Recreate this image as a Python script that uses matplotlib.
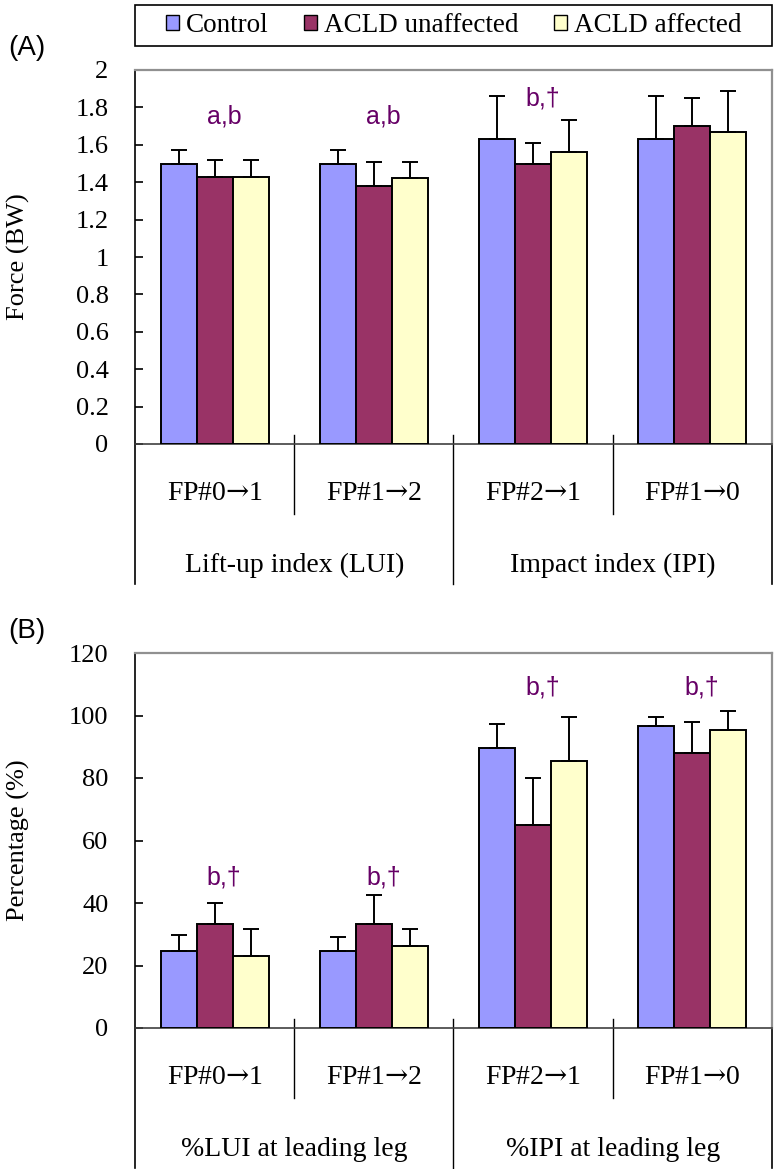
import matplotlib
matplotlib.use("Agg")
import matplotlib.pyplot as plt
from matplotlib.patches import Patch
from matplotlib import transforms
import numpy as np

plt.rcParams['font.family'] = ['Liberation Serif', 'DejaVu Serif']
plt.rcParams['mathtext.fontset'] = 'dejavuserif'

# ---- data ----
series = ["Control", "ACLD unaffected", "ACLD affected"]
colors = ["#9999FF", "#993366", "#FFFFCC"]
categories = ["FP#0\u21921", "FP#1\u21922", "FP#2\u21921", "FP#1\u21920"]

# panel A: force (BW)
force_mean = [[1.50, 1.50, 1.63, 1.63],
              [1.43, 1.38, 1.50, 1.70],
              [1.43, 1.42, 1.56, 1.67]]
force_err = [[0.07, 0.07, 0.23, 0.23],
             [0.09, 0.13, 0.11, 0.15],
             [0.09, 0.09, 0.17, 0.22]]
force_groups = ["Lift-up index (LUI)", "Impact index (IPI)"]
force_marks = ["a,b", "a,b", "b,\u2020", ""]
force_mark_y = [1.75, 1.75, 1.85, None]

# panel B: percentage (%)
pct_mean = [[24.6, 24.6, 89.5, 96.7],
            [33.3, 33.3, 65.0, 88.1],
            [23.0, 26.2, 85.5, 95.3]]
pct_err = [[5.2, 4.6, 7.8, 2.7],
           [6.6, 9.3, 14.9, 9.7],
           [8.8, 5.6, 13.9, 6.1]]
pct_groups = ["%LUI at leading leg", "%IPI at leading leg"]
pct_marks = ["b,\u2020", "b,\u2020", "b,\u2020", "b,\u2020"]
pct_mark_y = [48.3, 48.3, 109, 109]

W, H = 774, 1169
fig = plt.figure(figsize=(W / 100, H / 100), dpi=100)

ax_left, ax_right = 135, 772


def make_panel(top, bottom, mean, err, ymax, ystep, ylabel, groups, marks, mark_y, letter, tickfmt):
    ax = fig.add_axes([ax_left / W, 1 - bottom / H, (ax_right - ax_left) / W, (bottom - top) / H])
    h_px = bottom - top
    x = np.arange(len(categories))
    bw = 0.226
    for i in range(3):
        ax.bar(x + (i - 1) * bw, mean[i], bw, color=colors[i], edgecolor="black", linewidth=1.4,
               yerr=[np.zeros(4), err[i]], capsize=5.5,
               error_kw=dict(ecolor="black", elinewidth=1.4, capthick=1.4), zorder=3)
    ax.set_xlim(-0.5, 3.5)
    ax.set_ylim(0, ymax)
    ticks = np.arange(0, ymax + ystep / 2, ystep)
    ax.set_yticks(ticks)
    ax.set_yticklabels([tickfmt(v) for v in ticks])
    ax.set_xticks([])
    ax.tick_params(axis="y", direction="in", length=6, width=1.2, pad=19, labelsize=19)
    for s in ["top", "right"]:
        ax.spines[s].set_color("#909090")
        ax.spines[s].set_linewidth(1.6)
    ax.spines["left"].set_linewidth(1.2)
    ax.spines["bottom"].set_linewidth(1.2)
    ax.spines["bottom"].set_color("#404040")
    ax.set_ylabel(ylabel, fontsize=19)
    ax.yaxis.set_label_coords((30 - ax_left) / (ax_right - ax_left), 0.5)

    # multi-level category axis
    tr = transforms.blended_transform_factory(ax.transData, ax.transAxes)
    short_y = -70 / h_px
    long_y = -140 / h_px
    up_y = 9 / h_px
    for xb in [0.5, 2.5]:
        ax.plot([xb, xb], [up_y, short_y], color="black", lw=1.0, transform=tr, clip_on=False)
    ax.plot([1.5, 1.5], [up_y, long_y], color="black", lw=1.0, transform=tr, clip_on=False)
    for xb in [-0.5, 3.5]:
        ax.plot([xb, xb], [0, long_y], color="black", lw=1.2, transform=tr, clip_on=False)
    for xi, lab in enumerate(categories):
        ax.text(xi, -49 / h_px, lab.replace("\u2192", "$\u2192$"), transform=tr,
                ha="center", va="center", fontsize=20)
    for gi, lab in enumerate(groups):
        ax.text(0.5 + 2 * gi, -121 / h_px, lab, transform=tr, ha="center", va="center", fontsize=20)

    # significance marks
    for xi, (m, my) in enumerate(zip(marks, mark_y)):
        if m:
            ax.text(xi + 0.06, my, m, ha="center", va="center", fontsize=18, color="#660066",
                    family=["Liberation Sans", "DejaVu Sans"])

    fig.text(8 / W, 1 - (top - 22) / H, letter, fontsize=20, ha="left", va="center",
             family=["Liberation Sans", "DejaVu Sans"])
    return ax


def fmt_force(v):
    v = round(v, 1)
    return "0" if v == 0 else ("%g" % v)


def fmt_pct(v):
    return "%d" % round(v)


make_panel(70, 444, force_mean, force_err, 2.0, 0.2, "Force (BW)", force_groups,
           force_marks, force_mark_y, "(A)", fmt_force)
make_panel(653, 1028, pct_mean, pct_err, 120, 20, "Percentage (%)", pct_groups,
           pct_marks, pct_mark_y, "(B)", fmt_pct)

handles = [Patch(facecolor=c, edgecolor="black", linewidth=1.0) for c in colors]
leg = fig.legend(handles, series, loc="center", ncol=3,
                 bbox_to_anchor=(ax_left / W, 1 - 46 / H, (ax_right - ax_left) / W, 41 / H),
                 fontsize=19.5, frameon=False, handlelength=0.5, handleheight=0.5,
                 handletextpad=0.25, columnspacing=1.3, borderaxespad=0, borderpad=0.2)
fig.patches.append(plt.Rectangle((ax_left / W, 1 - 46 / H), (ax_right - ax_left) / W, 41 / H,
                                 transform=fig.transFigure, fill=False, edgecolor="black",
                                 linewidth=1.2))

fig.savefig("out.png", dpi=100)
